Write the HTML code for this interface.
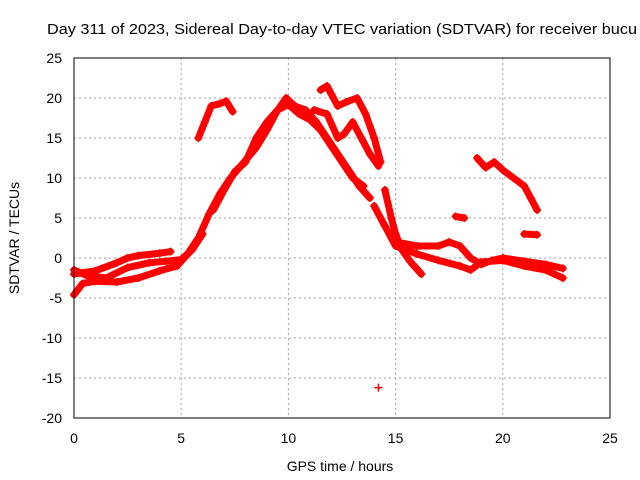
<!DOCTYPE html>
<html><head><meta charset="utf-8"><style>
body{margin:0;background:#fff;}
svg{display:block;font-family:"Liberation Sans",sans-serif;}
</style></head><body>
<svg id="chart" width="640" height="480" viewBox="0 0 640 480">
<rect width="640" height="480" fill="#fff"/>
<text x="47" y="34" font-size="15" textLength="590" lengthAdjust="spacingAndGlyphs" fill="#000">Day 311 of 2023, Sidereal Day-to-day VTEC variation (SDTVAR) for receiver bucu</text>
<g id="grid"></g>
<g id="marks"></g>
<rect x="74" y="58" width="536" height="360" fill="none" stroke="#000" stroke-width="1"/>
<g id="ticks"></g>
<text x="340" y="471" font-size="14" text-anchor="middle">GPS time / hours</text>
<text transform="translate(19,238) rotate(-90)" font-size="14" text-anchor="middle">SDTVAR / TECUs</text>
</svg>
<script>
const xTicks=[0,5,10,15,20,25];
const yTicks=[25,20,15,10,5,0,-5,-10,-15,-20];
const trackLowRise=[[0,-4.6],[0.4,-3.2],[1,-2.9],[2,-3],[3,-2.5],[4,-1.6],[4.8,-1],[5.3,0.5],[5.8,2.5],[6.3,5.5],[6.8,8],[7.3,10],[8,12.2],[8.5,13.8],[9,16],[9.5,18.5],[9.9,20],[10.3,19],[10.8,18.5],[11.3,17],[11.8,15],[12.3,13],[12.8,11],[13.3,9],[13.8,7.5]];
const trackUpperBase=[[0,-2],[1,-1.6],[2,-0.6],[2.5,0],[3,0.3],[4,0.6],[4.5,0.8]];
const trackMidBase=[[0,-1.5],[0.6,-2.2],[1.5,-2.5],[2.5,-1.2],[3.5,-0.6],[4.3,-0.4],[5,-0.2],[5.5,1],[6,3]];
const trackUpperRise=[[6.5,6],[7,8.5],[7.5,10.8],[8,12],[8.5,15],[9,17],[9.5,18.5],[10,19.2],[10.5,18],[11,17.3],[11.5,16],[12,14],[12.5,12],[13,10],[13.5,9]];
const trackEarlyHigh=[[5.8,15],[6.1,17],[6.4,19],[6.8,19.3],[7.1,19.6],[7.4,18.3]];
const trackPeakHigh=[[11.5,21],[11.8,21.5],[12,20.5],[12.3,19],[12.7,19.5],[13.2,20],[13.6,18],[14,15],[14.3,12]];
const trackPeakMid=[[11.2,18.5],[11.8,18],[12.3,15],[12.6,15.5],[13,17],[13.4,15],[13.8,13],[14.2,11.5]];
const trackDescentA=[[14.5,8.5],[14.8,5],[15,3],[15.3,1],[15.7,-0.5],[16.2,-2]];
const trackDescentB=[[14,6.5],[14.5,4],[15,1.5],[16,0.5],[17,-0.3],[18,-1],[18.5,-1.5],[19,-0.5],[20,-0.3],[21,-1],[22,-1.5],[22.8,-2.5]];
const trackLateBase=[[15,2],[16,1.5],[17,1.5],[17.5,2],[18,1.5],[18.5,0],[19,-0.8],[19.5,-0.3],[20,0],[21,-0.4],[22,-0.8],[22.8,-1.3]];
const trackRightHigh=[[18.8,12.5],[19.2,11.3],[19.6,12],[20,11],[20.5,10],[21,9],[21.3,7.5],[21.6,6]];
const trackSmallA=[[17.8,5.2],[18.2,5]];
const trackSmallB=[[21,3],[21.6,2.9]];
const trackOutlier=[[14.2,-16.2]];
const tracks=[trackLowRise,trackUpperBase,trackMidBase,trackUpperRise,trackEarlyHigh,trackPeakHigh,trackPeakMid,trackDescentA,trackDescentB,trackLateBase,trackRightHigh,trackSmallA,trackSmallB,trackOutlier];
const X=v=>74+v*536/25, Y=v=>258-v*8;
const NS="http://www.w3.org/2000/svg";
const grid=document.getElementById('grid'),ticks=document.getElementById('ticks'),marks=document.getElementById('marks');
function mk(t,a,p){const e=document.createElementNS(NS,t);for(const k in a)e.setAttribute(k,a[k]);p.appendChild(e);return e;}
xTicks.forEach(v=>{
 if(v>0&&v<25){const g=mk('line',{x1:X(v),x2:X(v),y1:58,y2:418,stroke:'#a0a0a0','stroke-dasharray':'2,3'},grid);
 
 }
 const t=mk('text',{x:X(v),y:443,'font-size':14,'text-anchor':'middle'},ticks);t.textContent=v;
 
 
});
yTicks.forEach(v=>{
 if(v<25&&v>-20){const g=mk('line',{x1:74,x2:610,y1:Y(v),y2:Y(v),stroke:'#a0a0a0','stroke-dasharray':'2,3'},grid);
 
 }
 const t=mk('text',{x:62,y:Y(v)+5,'font-size':14,'text-anchor':'end'},ticks);t.textContent=v;
 
 
});
tracks.forEach(tr=>{
 if(tr.length>1){const pl=mk('polyline',{points:tr.map(p=>X(p[0])+','+Y(p[1])).join(' '),fill:'none',stroke:'#f00','stroke-width':7,'stroke-linejoin':'round','stroke-linecap':'round'},marks);
 
 }
 tr.forEach(p=>{const x=X(p[0]),y=Y(p[1]);
  const m=mk('path',{d:`M${x-4},${y}h8M${x},${y-4}v8`,stroke:'#f00','stroke-width':1.5},marks);
  
  });
});
</script>
</body></html>
